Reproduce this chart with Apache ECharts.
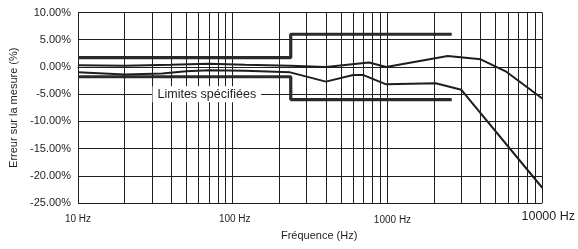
<!DOCTYPE html>
<html>
<head>
<meta charset="utf-8">
<script src="https://cdn.jsdelivr.net/npm/echarts@6/dist/echarts.min.js"></script>
<style>html,body{margin:0;padding:0;background:#fff}#c{width:578px;height:249px}</style>
</head>
<body>
<div id="c"></div>
<script>
// Data
var xTicks = [10, 100, 1000, 10000];
var minorGrid = [20,30,40,50,60,70,80,90,200,300,400,500,600,700,800,900,2000,3000,4000,5000,6000,7000,8000,9000];
var yTicks = [-25, -20, -15, -10, -5, 0, 5, 10];
var curveAFreq = [10, 20, 40, 70, 120, 235, 400, 760, 980, 2450, 4000, 5800, 10000];
var curveAVal  = [0.3, 0.2, 0.4, 0.6, 0.4, 0.2, 0.0, 0.8, 0.0, 2.0, 1.4, -0.8, -5.8];
var curveBFreq = [10, 20, 35, 50, 70, 120, 235, 400, 600, 700, 980, 2050, 3000, 10000];
var curveBVal  = [-1.0, -1.4, -1.2, -0.8, -0.6, -0.7, -1.0, -2.7, -1.5, -1.5, -3.2, -3.0, -4.2, -22.2];
var upperLimFreq = [10, 237, 237, 2600];
var upperLimVal  = [1.7, 1.7, 6.0, 6.0];
var lowerLimFreq = [10, 237, 237, 2600];
var lowerLimVal  = [-1.8, -1.8, -6.0, -6.0];
var limitLabel = 'Limites spécifiées';
var limitLabelPos = [68, -5];

function pairs(f, v){ return f.map(function(x,i){ return [x, v[i]]; }); }

var FONT = '"Liberation Sans", Arial, Helvetica, sans-serif';
var INK = '#1e1e1e';

var chart = echarts.init(document.getElementById('c'), null, {renderer:'canvas'});
chart.setOption({
  animation: false,
  backgroundColor: '#fff',
  grid: {left: 78, right: 35, top: 12.5, bottom: 46, containLabel: false},
  xAxis: {
    type: 'log', logBase: 10, min: 10, max: 10000,
    name: 'Fréquence (Hz)', nameLocation: 'middle', nameGap: 26,
    nameTextStyle: {fontFamily: FONT, fontSize: 11, color: INK, padding: [0,0,0,18]},
    axisLine: {show: true, lineStyle: {color: INK, width: 1}},
    axisTick: {show: false},
    splitLine: {show: true, lineStyle: {color: INK, width: 1}},
    axisLabel: {
      margin: 3, fontFamily: FONT, color: INK,
      formatter: function(v){
        if (v === 10000) return '{d|' + v + ' Hz}';
        if (v === 1000) return '{c|' + v + ' Hz}';
        if (v === 100) return '{b|' + v + ' Hz}';
        return '{a|' + v + ' Hz}';
      },
      rich: {
        a: {fontFamily: FONT, fontSize: 10, color: INK, padding: [8,0,0,0]},
        b: {fontFamily: FONT, fontSize: 10, color: INK, padding: [8,0,0,4]},
        c: {fontFamily: FONT, fontSize: 10, color: INK, padding: [9.5,0,0,10]},
        d: {fontFamily: FONT, fontSize: 12.5, color: INK, padding: [4.5,0,0,12]}
      }
    }
  },
  yAxis: {
    type: 'value', min: -25, max: 10, interval: 5,
    name: 'Erreur sur la mesure (%)', nameLocation: 'middle', nameGap: 52,
    nameTextStyle: {fontFamily: FONT, fontSize: 11, color: INK},
    axisLine: {show: true, lineStyle: {color: INK, width: 1}},
    axisTick: {show: false},
    splitLine: {show: true, lineStyle: {color: INK, width: 1}},
    axisLabel: {margin: 7, fontFamily: FONT, fontSize: 11, color: INK,
      formatter: function(v){ return v.toFixed(2) + '%'; }}
  },
  series: [
    {
      type: 'line', data: [], silent: true, z: 1,
      markLine: {
        silent: true, symbol: ['none','none'], label: {show: false},
        lineStyle: {color: INK, width: 1, type: 'solid'},
        data: minorGrid.map(function(x){ return {xAxis: x}; })
      }
    },
    {
      name: 'upper', type: 'line', data: pairs(upperLimFreq, upperLimVal), showSymbol: false, z: 3,
      lineStyle: {color: '#2b2b2b', width: 3.2}
    },
    {
      name: 'lower', type: 'line', data: pairs(lowerLimFreq, lowerLimVal), showSymbol: false, z: 3,
      lineStyle: {color: '#2b2b2b', width: 3.2}
    },
    {
      name: 'A', type: 'line', data: pairs(curveAFreq, curveAVal), showSymbol: false, z: 4,
      lineStyle: {color: INK, width: 2}
    },
    {
      name: 'B', type: 'line', data: pairs(curveBFreq, curveBVal), showSymbol: false, z: 4,
      lineStyle: {color: INK, width: 2}
    },
    {
      type: 'line', data: [], z: 10,
      markPoint: {
        silent: true, symbol: 'rect', symbolSize: 1, itemStyle: {color: 'rgba(0,0,0,0)'},
        label: {show: true, position: 'inside', formatter: limitLabel, fontFamily: FONT, fontSize: 12.5,
          color: INK, backgroundColor: '#fff', padding: [2,5,1,5]},
        data: [{coord: limitLabelPos}]
      }
    }
  ]
});
</script>
</body>
</html>
